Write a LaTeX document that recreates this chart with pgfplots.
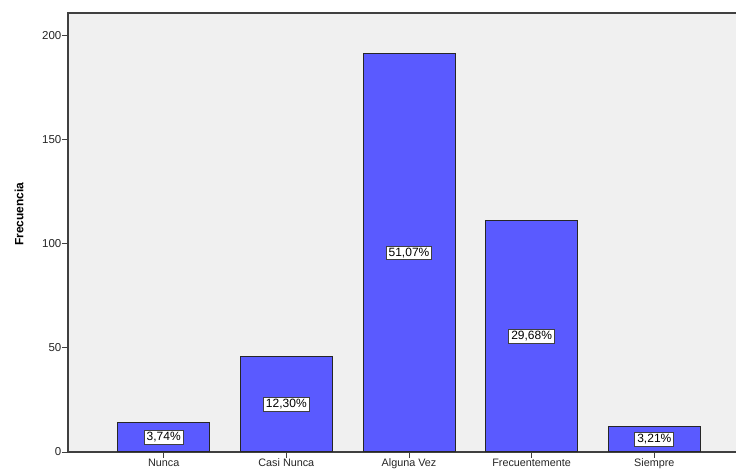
\documentclass[border=0pt]{standalone}
\usepackage{pgfplots}
\pgfplotsset{compat=1.18}
\usepackage{pgfplotstable}
\usepackage{fontspec}
\setmainfont{Liberation Sans}
\definecolor{barblue}{HTML}{5A5AFF}
\definecolor{bgc}{HTML}{F0F0F0}
\definecolor{axc}{HTML}{404040}
\pgfplotstableread{
x y label
0 14 3,74\%
1 46 12,30\%
2 191 51,07\%
3 111 29,68\%
4 12 3,21\%
}\datatable
\begin{document}
\begin{tikzpicture}[x=1pt,y=1pt]
\useasboundingbox (-68,-18) rectangle (668,452);
\clip (-68,-18) rectangle (668,452);
\fill[white] (-68,-18) rectangle (668,452);
\begin{axis}[
  at={(0,0)}, anchor=south west,
  scale only axis, width=682pt, height=439pt,
  xmin=-0.78, xmax=4.78, ymin=0, ymax=210.6,
  axis background/.style={fill=bgc},
  axis line style={axc, line width=1.1pt},
  xtick={0,1,2,3,4},
  xticklabels={Nunca,Casi Nunca,Alguna Vez,Frecuentemente,Siempre},
  ytick={0,50,100,150,200},
  tick align=outside, tick pos=left,
  major tick length=6pt,
  tick style={axc, line width=0.9pt},
  /pgf/number format/assume math mode=true,
  yticklabel style={font=\fontsize{11.5}{13}\selectfont, text=black!85, inner xsep=0.5pt},
  xticklabel style={font=\fontsize{10.8}{12}\selectfont, text=black!85, yshift=2.5pt},
  ylabel={Frecuencia},
  ylabel style={font=\bfseries\fontsize{12}{14}\selectfont, at={(axis description cs:-0.0718,0.542)}, anchor=center},
  title={del ámbito de Publicaciones de Investigación},
  title style={font=\bfseries\fontsize{13}{15}\selectfont, at={(axis description cs:0.5,1)}, anchor=base, yshift=9pt},
]
\addplot[ybar, bar width=92pt, fill=barblue, draw=black!85, line width=1pt] table[x=x, y=y] {\datatable};
\addplot[draw=none, mark=none, nodes near coords, point meta=explicit symbolic,
  every node near coord/.append style={anchor=center, fill=white, draw=black!75, line width=0.8pt, inner xsep=2.5pt, inner ysep=2pt, font=\fontsize{12}{14}\selectfont}]
  table[x=x, y expr=\thisrow{y}/2, meta=label] {\datatable};
\end{axis}
\end{tikzpicture}
\end{document}
